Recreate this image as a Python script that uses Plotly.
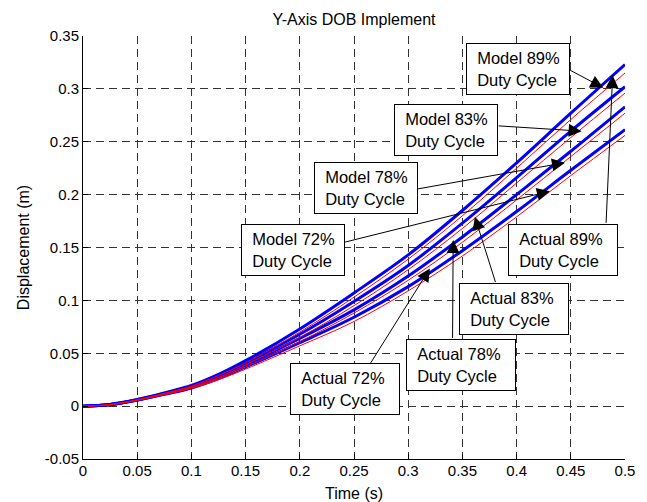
import plotly.graph_objects as go

# ---- data ----
t = [0.0, 0.025, 0.05, 0.075, 0.1, 0.125, 0.15, 0.2, 0.25, 0.3, 0.35, 0.4, 0.45, 0.5]

actual_89 = [0, 0.0016, 0.0062, 0.0125, 0.0195, 0.030, 0.043, 0.073, 0.107, 0.143, 0.185, 0.230, 0.277, 0.323]
actual_83 = [0, 0.0015, 0.0060, 0.0120, 0.0187, 0.028, 0.041, 0.068, 0.099, 0.133, 0.173, 0.216, 0.260, 0.302]
actual_78 = [0, 0.0015, 0.0058, 0.0116, 0.0180, 0.027, 0.039, 0.064, 0.091, 0.123, 0.160, 0.200, 0.241, 0.283]
actual_72 = [0, 0.0014, 0.0056, 0.0112, 0.0172, 0.026, 0.037, 0.060, 0.084, 0.113, 0.147, 0.184, 0.223, 0.2615]

model_89 = [0, 0.0015, 0.0060, 0.0121, 0.0190, 0.029, 0.041, 0.070, 0.103, 0.139, 0.180, 0.225, 0.271, 0.315]
model_83 = [0, 0.0014, 0.0058, 0.0117, 0.0182, 0.027, 0.039, 0.065, 0.095, 0.129, 0.168, 0.211, 0.254, 0.296]
model_78 = [0, 0.0014, 0.0056, 0.0113, 0.0175, 0.026, 0.037, 0.061, 0.088, 0.119, 0.155, 0.195, 0.236, 0.277]
model_72 = [0, 0.0013, 0.0054, 0.0109, 0.0167, 0.025, 0.035, 0.057, 0.080, 0.109, 0.142, 0.179, 0.218, 0.256]

actual_series = [actual_89, actual_83, actual_78, actual_72]
model_series = [model_89, model_83, model_78, model_72]

x_ticks = [0, 0.05, 0.1, 0.15, 0.2, 0.25, 0.3, 0.35, 0.4, 0.45, 0.5]
x_labels = ["0", "0.05", "0.1", "0.15", "0.2", "0.25", "0.3", "0.35", "0.4", "0.45", "0.5"]
y_ticks = [-0.05, 0, 0.05, 0.1, 0.15, 0.2, 0.25, 0.3, 0.35]
y_labels = ["-0.05", "0", "0.05", "0.1", "0.15", "0.2", "0.25", "0.3", "0.35"]

# annotation labels: (text, box centre x, box centre y, arrow tail x, tail y, head x, head y)
labels = [
    ("Model 89%<br>Duty Cycle", 0.4012, 0.3187, 0.448, 0.3184, 0.480, 0.3010),
    ("Model 83%<br>Duty Cycle", 0.3350, 0.2613, 0.3821, 0.2651, 0.460, 0.2600),
    ("Model 78%<br>Duty Cycle", 0.2607, 0.2061, 0.3077, 0.2052, 0.4446, 0.2302),
    ("Model 72%<br>Duty Cycle", 0.1933, 0.1480, 0.2405, 0.1548, 0.4307, 0.2033),
    ("Actual 89%<br>Duty Cycle", 0.4428, 0.1478, 0.4825, 0.1719, 0.4886, 0.3130),
    ("Actual 83%<br>Duty Cycle", 0.3978, 0.0920, 0.3809, 0.1160, 0.3615, 0.1790),
    ("Actual 78%<br>Duty Cycle", 0.3484, 0.0391, 0.3409, 0.0631, 0.3415, 0.1570),
    ("Actual 72%<br>Duty Cycle", 0.2413, 0.0158, 0.2645, 0.0394, 0.3200, 0.1302),
]

FONT = "Liberation Sans, Arial, Helvetica, sans-serif"

fig = go.Figure()
for a in actual_series:
    fig.add_trace(go.Scatter(x=t, y=a, mode="lines", line=dict(color="#0000ff", width=3, shape="spline"),
                             showlegend=False, hoverinfo="skip"))
for m in model_series:
    fig.add_trace(go.Scatter(x=t, y=m, mode="lines", line=dict(color="#ff0000", width=1, shape="spline"),
                             showlegend=False, hoverinfo="skip"))

annotations = []
for text, bx, by, tx, ty, hx, hy in labels:
    annotations.append(dict(x=hx, y=hy, xref="x", yref="y", ax=tx, ay=ty, axref="x", ayref="y",
                            text="", showarrow=True, arrowhead=2, arrowsize=2.6, arrowwidth=1,
                            arrowcolor="black", standoff=0, startstandoff=0))
for text, bx, by, tx, ty, hx, hy in labels:
    w = 100 if text.startswith("Model") else 106
    padded = "&nbsp;&nbsp;" + text.replace("<br>", "<br>&nbsp;&nbsp;")
    annotations.append(dict(x=bx, y=by, xref="x", yref="y", text=padded, showarrow=False,
                            align="left", width=w, height=48, bgcolor="white",
                            bordercolor="black", borderwidth=1, borderpad=1,
                            font=dict(family=FONT, size=16.5, color="black")))

fig.update_layout(
    width=647, height=502,
    margin=dict(l=83, r=22, t=36, b=43),
    paper_bgcolor="white", plot_bgcolor="white",
    font=dict(family=FONT, size=15, color="black"),
    title=dict(text="Y-Axis DOB Implement", x=0.5, xref="paper", xanchor="center",
               y=1 - 19 / 502, yref="container", yanchor="middle",
               font=dict(family=FONT, size=16, color="black")),
    annotations=annotations,
    showlegend=False,
)
fig.update_xaxes(range=[0, 0.5], tickvals=x_ticks, ticktext=x_labels, automargin=False,
                 showgrid=True, gridcolor="#333333", griddash="8px,5px", gridwidth=1,
                 zeroline=False, showline=True, linecolor="black", linewidth=1,
                 ticks="inside", ticklen=5, tickcolor="black", ticklabelstandoff=-2,
                 title=dict(text="Time (s)", font=dict(size=16)))
fig.update_yaxes(range=[-0.05, 0.35], tickvals=y_ticks, ticktext=y_labels, automargin=True,
                 showgrid=True, gridcolor="#333333", griddash="8px,5px", gridwidth=1,
                 zeroline=False, showline=True, linecolor="black", linewidth=1,
                 ticks="inside", ticklen=5, tickcolor="black",
                 title=dict(text="Displacement (m)", standoff=11, font=dict(size=16)))

fig.write_html("out.html")
